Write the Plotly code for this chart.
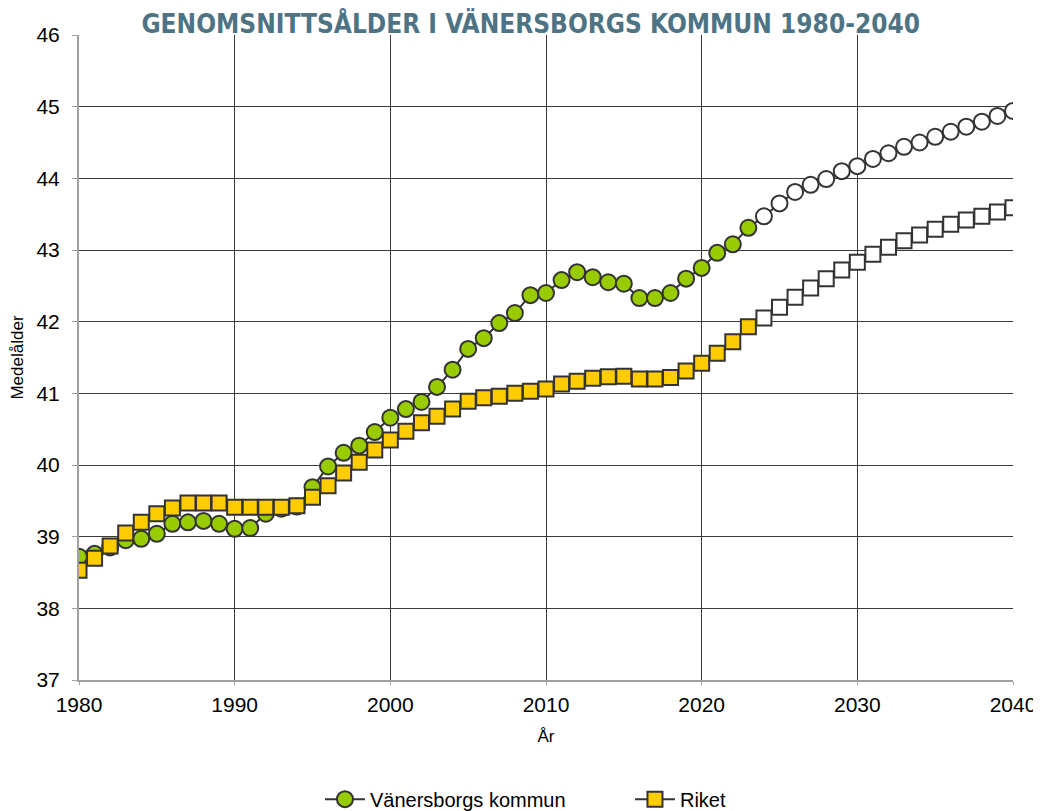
import plotly.graph_objects as go

# Years and average age (Medelålder); values from 2024 onward are projections
years = list(range(1980, 2041))
last_actual = 2023

vanersborg = [
    38.72, 38.76, 38.85, 38.95, 38.97, 39.04, 39.18, 39.20, 39.22, 39.18,
    39.11, 39.12, 39.32, 39.39, 39.42, 39.69, 39.98, 40.17, 40.27, 40.46,
    40.66, 40.78, 40.88, 41.09, 41.33, 41.62, 41.77, 41.98, 42.12, 42.37,
    42.40, 42.58, 42.69, 42.62, 42.55, 42.53, 42.33, 42.33, 42.40, 42.60,
    42.75, 42.96, 43.08, 43.31, 43.47, 43.65, 43.81, 43.91, 43.99, 44.10,
    44.17, 44.27, 44.35, 44.44, 44.50, 44.58, 44.65, 44.72, 44.79, 44.87,
    44.94,
]
riket = [
    38.53, 38.70, 38.87, 39.05, 39.20, 39.32, 39.40, 39.47, 39.47, 39.47,
    39.41, 39.41, 39.41, 39.41, 39.43, 39.55, 39.71, 39.89, 40.04, 40.21,
    40.35, 40.47, 40.59, 40.68, 40.78, 40.89, 40.94, 40.96, 41.00, 41.03,
    41.06, 41.13, 41.17, 41.21, 41.23, 41.24, 41.20, 41.20, 41.22, 41.31,
    41.42, 41.56, 41.72, 41.93, 42.05, 42.20, 42.34, 42.47, 42.60, 42.72,
    42.83, 42.94, 43.04, 43.13, 43.21, 43.29, 43.36, 43.42, 43.47, 43.53,
    43.59,
]

series_names = ["Vänersborgs kommun", "Riket"]
x_ticks = [1980, 1990, 2000, 2010, 2020, 2030, 2040]

green = "#99cc00"
gold = "#ffcc00"
edge = "#333333"

green_fill = [green if y <= last_actual else "white" for y in years]
gold_fill = [gold if y <= last_actual else "white" for y in years]

fig = go.Figure()
fig.add_trace(go.Scatter(
    x=years, y=vanersborg, name=series_names[0], mode="lines+markers",
    line=dict(color=edge, width=2),
    marker=dict(symbol="circle", size=16, color=green_fill,
                line=dict(color=edge, width=2)),
))
fig.add_trace(go.Scatter(
    x=years, y=riket, name=series_names[1], mode="lines+markers",
    line=dict(color=edge, width=2),
    marker=dict(symbol="square", size=15, color=gold_fill,
                line=dict(color=edge, width=2)),
))

# page has an 8px body margin, so the figure is a little smaller than the window
fig.update_layout(
    width=1033, height=803,
    margin=dict(l=71, r=28, t=27, b=131, autoexpand=False),
    plot_bgcolor="white", paper_bgcolor="white",
    font=dict(family="Liberation Sans, Arial, sans-serif", size=21, color="black"),
    title=dict(
        text="<b>GENOMSNITTSÅLDER I VÄNERSBORGS KOMMUN 1980-2040</b>",
        font=dict(family="DejaVu Sans Condensed, Liberation Sans Narrow, Arial Narrow, sans-serif",
                  size=26, color="#4e7384"),
        x=0.506, xanchor="center", y=0.98, yanchor="middle",
    ),
    xaxis=dict(
        range=[1980, 2040], tickvals=x_ticks,
        showgrid=True, gridcolor="#3a3a3a", gridwidth=1,
        showline=True, linecolor="#a0a0a0", linewidth=2,
        ticks="outside", ticklen=3, tickcolor="#a0a0a0",
        ticklabelstandoff=2,
        title=dict(text="År", font=dict(size=17), standoff=15),
        zeroline=False, automargin=False,
    ),
    yaxis=dict(
        range=[37, 46], dtick=1,
        showgrid=True, gridcolor="#3a3a3a", gridwidth=1,
        showline=True, linecolor="#a0a0a0", linewidth=2,
        ticks="outside", ticklen=5, tickcolor="#a0a0a0",
        ticklabelstandoff=8,
        title=dict(text="Medelålder", font=dict(size=17), standoff=12),
        zeroline=False, automargin=False,
    ),
    legend=dict(
        orientation="h", x=0.258, xanchor="left", y=-0.215, yanchor="bottom",
        font=dict(size=20), itemwidth=40, entrywidth=255,
    ),
)

fig.write_html("out.html")
